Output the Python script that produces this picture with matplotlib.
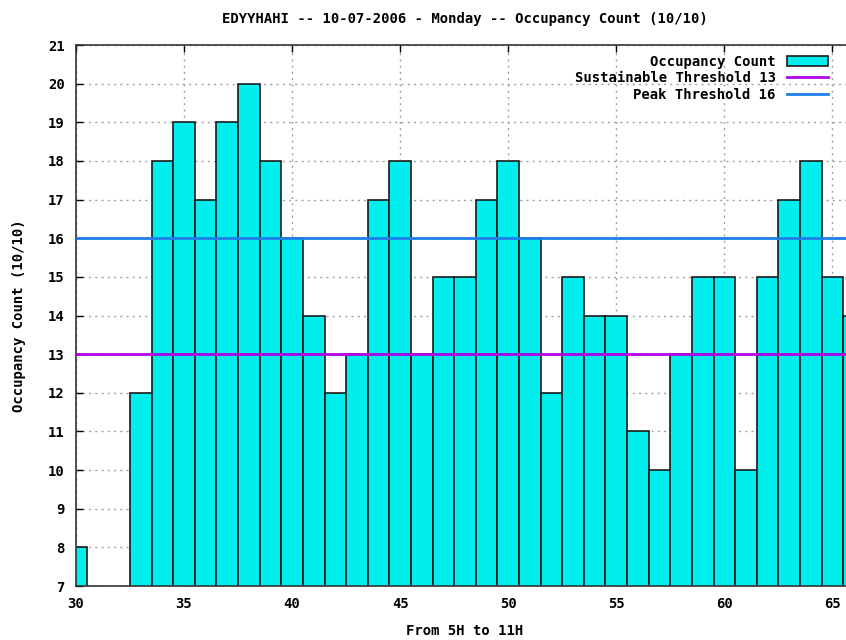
import matplotlib.pyplot as plt
import numpy as np

# hourly slots (x) and occupancy counts
slots = np.arange(30, 67)
counts = [8, 0, 0, 12, 18, 19, 17, 19, 20, 18, 16, 14, 12, 13, 17, 18, 13,
          15, 15, 17, 18, 16, 12, 15, 14, 14, 11, 10, 13, 15, 15, 10, 15,
          17, 18, 15, 14]
sustainable = 13
peak = 16

title = "EDYYHAHI -- 10-07-2006 - Monday -- Occupancy Count (10/10)"
xticks = [30, 35, 40, 45, 50, 55, 60, 65]
yticks = list(range(7, 22))

plt.rcParams['font.family'] = ['DejaVu Sans Mono']
plt.rcParams['font.weight'] = 'bold'
plt.rcParams['font.size'] = 9

fig = plt.figure(figsize=(8.46, 6.40), dpi=100)
ax = fig.add_axes([76 / 846, 1 - 586 / 640, (854 - 76) / 846, (586 - 45) / 640])

bars = ax.bar(slots, counts, width=1.0, color='#00eeee', edgecolor='#1a1a1a',
              linewidth=1.2, label='Occupancy Count', zorder=2)
l1 = ax.axhline(sustainable, color='#b000e8', linewidth=2,
                label='Sustainable Threshold %d' % sustainable, zorder=3)
l2 = ax.axhline(peak, color='#1e7fe8', linewidth=2,
                label='Peak Threshold %d' % peak, zorder=3)

ax.set_xlim(30, 66)
ax.set_ylim(7, 21)
ax.set_xticks(xticks)
ax.set_yticks(yticks)
ax.tick_params(direction='in', length=5, width=1, top=True, right=False,
               labelsize=10, pad=8)
ax.grid(True, color='#a0a0a0', linestyle=(0, (1.5, 3)), linewidth=1, zorder=0)
ax.set_axisbelow(True)
for s in ax.spines.values():
    s.set_linewidth(1.2)
    s.set_color('#333333')

ax.set_title(title, fontsize=10, pad=16, fontweight='bold')
ax.set_xlabel("From 5H to 11H", fontsize=10, labelpad=9, fontweight='bold')
ax.set_ylabel("Occupancy Count (10/10)", fontsize=10, labelpad=16,
              fontweight='bold')

ax.legend([bars, l1, l2], [bars.get_label(), l1.get_label(), l2.get_label()],
          loc='upper right', bbox_to_anchor=((838 - 76) / (854 - 76), 1.0),
          frameon=False, markerfirst=False, fontsize=10, handlelength=3,
          handleheight=0.8, labelspacing=0.2, borderaxespad=0.3)

fig.savefig('out.png', dpi=100)
